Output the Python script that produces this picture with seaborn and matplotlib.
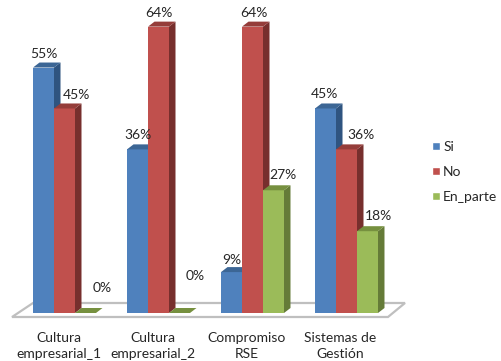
import matplotlib
matplotlib.use("Agg")
import matplotlib.pyplot as plt
from matplotlib.patches import Polygon
from matplotlib.transforms import ScaledTranslation
import pandas as pd
import seaborn as sns

categories = ["Cultura\nempresarial_1", "Cultura\nempresarial_2", "Compromiso\nRSE", "Sistemas de\nGestión"]
si = [54.55, 36.36, 9.09, 45.45]
no = [45.45, 63.64, 63.64, 36.36]
en_parte = [0, 0, 27.27, 18.18]
series_names = ["Si", "No", "En_parte"]

front_colors = ["#4F81BD", "#C0504D", "#9BBB59"]
top_colors = ["#3C6695", "#953D3A", "#76903F"]
side_colors = ["#2F5480", "#772F2D", "#657B38"]
label_offsets = [
    [(0, 13), (0, 13), (0, 11), (-1, 13)],
    [(12, 12), (0, 13), (1, 13), (15, 13)],
    [(17, 24), (16, 36), (9, 14), (11, 14)],
]
FW, FH = 502, 361
BASE_PX = 313
PX_PER_UNIT = 4.5
DX, DY = 6.5, 5

sns.set_theme(style="white")
plt.rcParams["font.family"] = ["Lato", "DejaVu Sans"]
TEXT = "#262626"
FS = 10

fig = plt.figure(figsize=(FW / 100, FH / 100), dpi=100)
ax = fig.add_axes([0, (FH - BASE_PX) / FH, 1, BASE_PX / FH])
df = pd.DataFrame({
    "categoria": categories * 3,
    "valor": si + no + en_parte,
    "serie": [s for s in series_names for _ in categories],
})
sns.barplot(data=df, x="categoria", y="valor", hue="serie", hue_order=series_names,
            palette=front_colors, saturation=1, width=0.67, gap=0, ax=ax)
ax.set_xlim(-64.5 / 94, (FW - 64.5) / 94)
ax.set_ylim(0, BASE_PX / PX_PER_UNIT)
sns.despine(ax=ax, left=True, bottom=True)
ax.set_yticks([])
ax.set_xlabel("")
ax.set_ylabel("")
ax.tick_params(axis="x", length=0, pad=13.5, labelsize=FS, labelcolor=TEXT)
shift = ScaledTranslation(-6 / 100, 0, fig.dpi_scale_trans)
for t in ax.get_xticklabels():
    t.set_linespacing(1.4)
    t.set_transform(t.get_transform() + shift)
ax.patch.set_alpha(0)

ux, uy = 1 / 94, 1 / PX_PER_UNIT  # data units per pixel
for i, cont in enumerate(ax.containers):
    z = 3 + i * 2
    for j, bar in enumerate(cont.patches):
        bar.set_zorder(z + 1)
        bar.set_edgecolor("none")
        x0, w, h = bar.get_x(), bar.get_width(), bar.get_height()
        x1 = x0 + w
        ax.add_patch(Polygon([(x0, h), (x1, h), (x1 + DX * ux, h + DY * uy), (x0 + DX * ux, h + DY * uy)],
                             closed=True, fc=top_colors[i], ec="none", zorder=z + 1, clip_on=False))
        if h > 0:
            ax.add_patch(Polygon([(x1, 0), (x1, h), (x1 + DX * ux, h + DY * uy), (x1 + DX * ux, DY * uy)],
                                 closed=True, fc=side_colors[i], ec="none", zorder=z, clip_on=False))
        dx, dy = label_offsets[i][j]
        ax.annotate(f"{h:.0f}%", (x0 + w / 2, h), xytext=(dx * 0.72, (dy + 1) * 0.72), textcoords="offset points",
                    ha="center", va="center", fontsize=FS, color=TEXT, zorder=20, annotation_clip=False)

# Floor of the 3D plot
bars = [b for c in ax.containers for b in c.patches]
left = min(b.get_x() for b in bars)
right = max(b.get_x() + b.get_width() for b in bars)
floor = [(left - 21 * ux, -4 * uy), (right + 10 * ux, -4 * uy), (right + 27 * ux, 10 * uy), (left, 10 * uy)]
ax.add_patch(Polygon(floor, closed=True, fc="white", ec="#BFBFBF", lw=1.6, zorder=1, clip_on=False, joinstyle="miter"))

handles, labels = ax.get_legend_handles_labels()
leg = ax.legend(handles, labels, loc="center left", bbox_to_anchor=(432 / FW, (BASE_PX - 172) / BASE_PX),
                frameon=False, fontsize=FS, handlelength=0.55, handleheight=0.55, handletextpad=0.25,
                labelspacing=0.95, borderpad=0, borderaxespad=0, labelcolor=TEXT)
leg.set_zorder(30)
fig.savefig("out.png", dpi=100)
